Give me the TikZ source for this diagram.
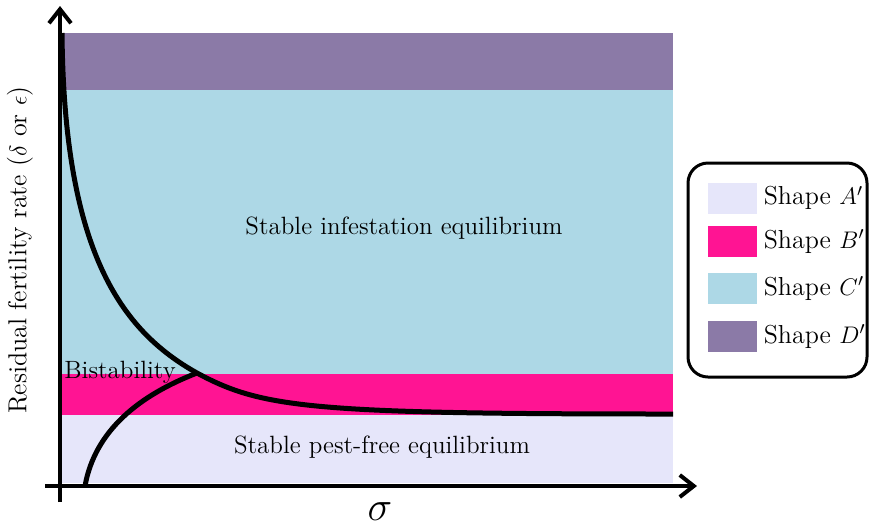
\documentclass[tikz,border=0pt]{standalone}
\usepackage{tikz}
\usetikzlibrary{arrows.meta, positioning}

\definecolor{shapeA}{HTML}{E6E6FA}
\definecolor{shapeB}{HTML}{FF1493}
\definecolor{shapeC}{HTML}{ADD8E6}
\definecolor{shapeD}{HTML}{8B7AA7}

\begin{document}
\begin{tikzpicture}[
    x=0.5pt, y=-0.5pt,
    font=\fontsize{12.5}{15}\selectfont,
    axis/.style={line width=2pt, -{Straight Barb[length=7pt, width=11pt]}},
    border/.style={line width=2.5pt, line join=round},
    swatch/.style={rectangle, minimum width=24.5pt, minimum height=15.5pt, inner sep=0pt},
    entry/.style={right=3pt of #1, inner sep=0pt, font=\fontsize{13}{15}\selectfont}
]
    \useasboundingbox (0,0) rectangle (872,526);

    % Regions
    \fill[shapeD] (60,33) rectangle (673,90);
    \fill[shapeC] (60,90) rectangle (673,374);
    \fill[shapeB] (60,374) rectangle (673,415);
    \fill[shapeA] (60,415) rectangle (673,483);

    % Borders
    \draw[border] (62,33) .. controls (64,250) and (120,330) .. (197,373)
        .. controls (262,408) and (310,414) .. (673,414);
    \draw[border] (85,486) .. controls (95,430) and (140,395) .. (197,373);

    % Axes
    \draw[axis] (60,502) -- (60,6);
    \draw[axis] (45,486) -- (697,486);

    % Labels
    \node (sie) at (404,228) {Stable infestation equilibrium};
    \node (spf) at (382,447) {Stable pest-free equilibrium};
    \node[anchor=base west, inner sep=0pt] (bis) at (64,378) {Bistability};
    \node (xlab) at (380,512) {\fontsize{22}{25}\selectfont$\sigma$};
    \node[rotate=90, font=\fontsize{13}{15}\selectfont] (ylab) at (20,250) {Residual fertility rate ($\delta$ or $\epsilon$)};

    % Legend
    \draw[line width=1.5pt, rounded corners=10pt] (688,163) rectangle (867,377);
    \node[swatch, fill=shapeA] (swA) at (732.5,198) {};
    \node[swatch, fill=shapeB] (swB) at (732.5,241.5) {};
    \node[swatch, fill=shapeC] (swC) at (732.5,288.5) {};
    \node[swatch, fill=shapeD] (swD) at (732.5,336.5) {};
    \node[entry=swA] (labA) {Shape $A'$};
    \node[entry=swB] (labB) {Shape $B'$};
    \node[entry=swC] (labC) {Shape $C'$};
    \node[entry=swD] (labD) {Shape $D'$};
\end{tikzpicture}
\end{document}
